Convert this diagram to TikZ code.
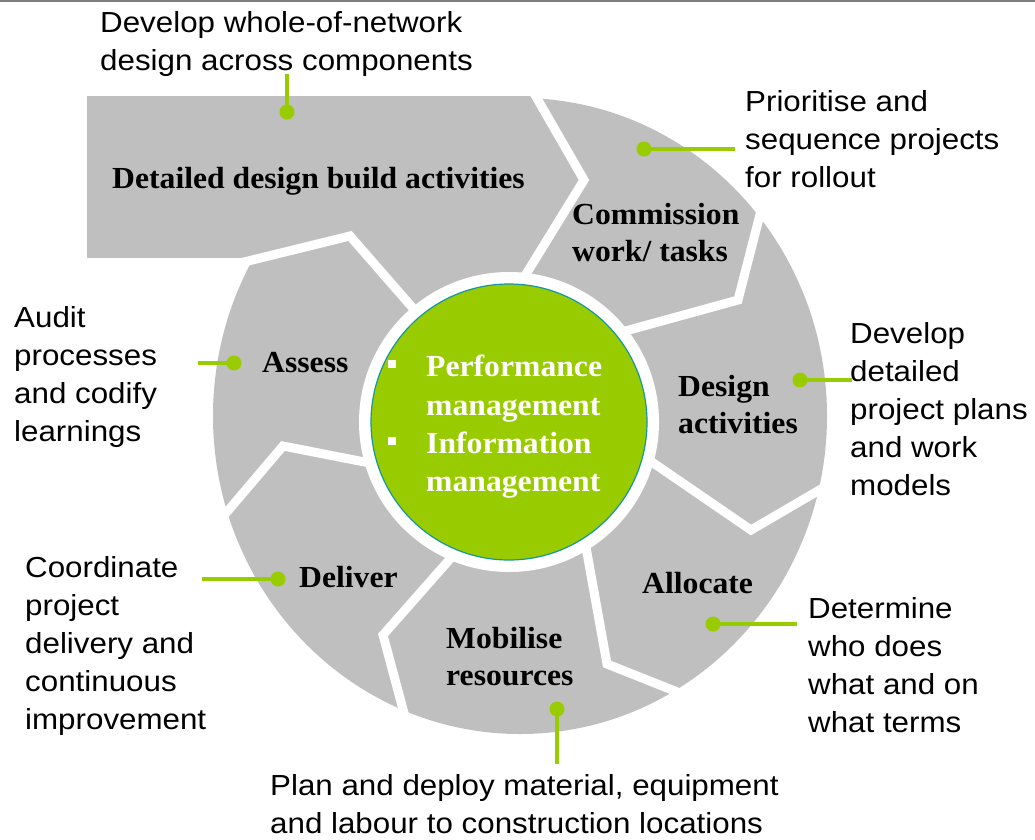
\documentclass[tikz,border=0pt]{standalone}
\usepackage{fontspec}
\setmainfont[FakeStretch=1.035]{Liberation Serif}
\newfontfamily\calloutfont[FakeStretch=1.08]{Liberation Sans}
\definecolor{seggray}{RGB}{191,191,191}
\definecolor{callgreen}{RGB}{153,204,0}
\definecolor{rimteal}{RGB}{20,150,160}
\definecolor{toprule}{RGB}{127,127,127}
\newcommand\hubbullet{\llap{\raisebox{9pt}{\rule{8pt}{8pt}}\hspace{30pt}}}
\begin{document}
\begin{tikzpicture}[x=1pt,y=-1pt,
  sep/.style={white, line width=9pt, line join=miter},
  seglabel/.style={font=\fontsize{30.6}{37}\selectfont\bfseries, inner sep=0pt, align=left, anchor=north west, execute at begin node=\strut},
  hubtext/.style={font=\fontsize{30.6}{38.3}\selectfont\bfseries, text=white, inner sep=0pt, align=left, anchor=north west, execute at begin node=\strut},
  callout/.style={font=\calloutfont\fontsize{29}{38.2}\selectfont, inner sep=0pt, align=left, anchor=north west, execute at begin node=\strut},
  leader/.style={callgreen, line width=4pt},
  dot/.style={circle, fill=callgreen, inner sep=0pt, minimum size=15pt},
  hub/.style={circle, fill=callgreen, draw=rimteal, line width=1.2pt, minimum size=276pt, inner sep=0pt},
]
\useasboundingbox (0,0) rectangle (1035,839);
\draw[toprule, line width=2pt] (0,1) -- (1035,1);
% gray cycle body
\fill[seggray] (87,96) rectangle (533,258);
\fill[seggray] (520,416) ellipse [x radius=307pt, y radius=318pt];
\fill[white] (509,422) circle [radius=150pt];
% chevron separators
\draw[sep] (531,88) -- (584,180) -- (515,292);
\draw[sep] (765,195) -- (738,300) -- (600,338);
\draw[sep] (840,478) -- (751,530) -- (630,447);
\draw[sep] (582,525) -- (607,664) -- (700,701);
\draw[sep] (465,542) -- (383,635) -- (408,728);
\draw[sep] (215,526) -- (283,446) -- (385,466);
\draw[sep] (240,263) -- (350,236) -- (425,322);
% hub
\node[hub] (hub) at (509,422) {};
\node[hubtext] (hubtext) at (426,355.2) {\hubbullet Performance\\management\\\hubbullet Information\\management};
% segment labels
\node[seglabel] (detailed) at (112,162.1) {Detailed design build activities};
\node[seglabel] (commission) at (572,203.1) {Commission\\work/ tasks};
\node[seglabel] (design) at (678,375.1) {Design\\activities};
\node[seglabel] (allocate) at (642,567.1) {Allocate};
\node[seglabel] (mobilise) at (446,627.1) {Mobilise\\resources};
\node[seglabel] (deliver) at (299,561.1) {Deliver};
\node[seglabel] (assess) at (262,346.1) {Assess};
% callout texts
\node[callout] (cA) at (100,10.9) {Develop whole-of-network\\design across components};
\node[callout] (cB) at (745,89.9) {Prioritise and\\sequence projects\\for rollout};
\node[callout] (cC) at (850,321.9) {Develop\\detailed\\project plans\\and work\\models};
\node[callout] (cD) at (808,596.9) {Determine\\who does\\what and on\\what terms};
\node[callout] (cE) at (270,774.4) {Plan and deploy material, equipment\\and labour to construction locations};
\node[callout] (cF) at (25,555.9) {Coordinate\\project\\delivery and\\continuous\\improvement};
\node[callout] (cG) at (14,305.9) {Audit\\processes\\and codify\\learnings};
% callout dots and leaders
\node[dot] (dA) at (287,112) {};
\node[dot] (dB) at (644,149) {};
\node[dot] (dC) at (800,380) {};
\node[dot] (dD) at (713,624) {};
\node[dot] (dE) at (557,709) {};
\node[dot] (dF) at (278,579) {};
\node[dot] (dG) at (234,363) {};
\coordinate (eA) at (287,74);
\coordinate (eB) at (735,149);
\coordinate (eC) at (852,380);
\coordinate (eD) at (797,624);
\coordinate (eE) at (557,764);
\coordinate (eF) at (202,579);
\coordinate (eG) at (198,363);
\draw[leader] (dA.center) -- (eA);
\draw[leader] (dB.center) -- (eB);
\draw[leader] (dC.center) -- (eC);
\draw[leader] (dD.center) -- (eD);
\draw[leader] (dE.center) -- (eE);
\draw[leader] (dF.center) -- (eF);
\draw[leader] (dG.center) -- (eG);
\end{tikzpicture}
\end{document}
